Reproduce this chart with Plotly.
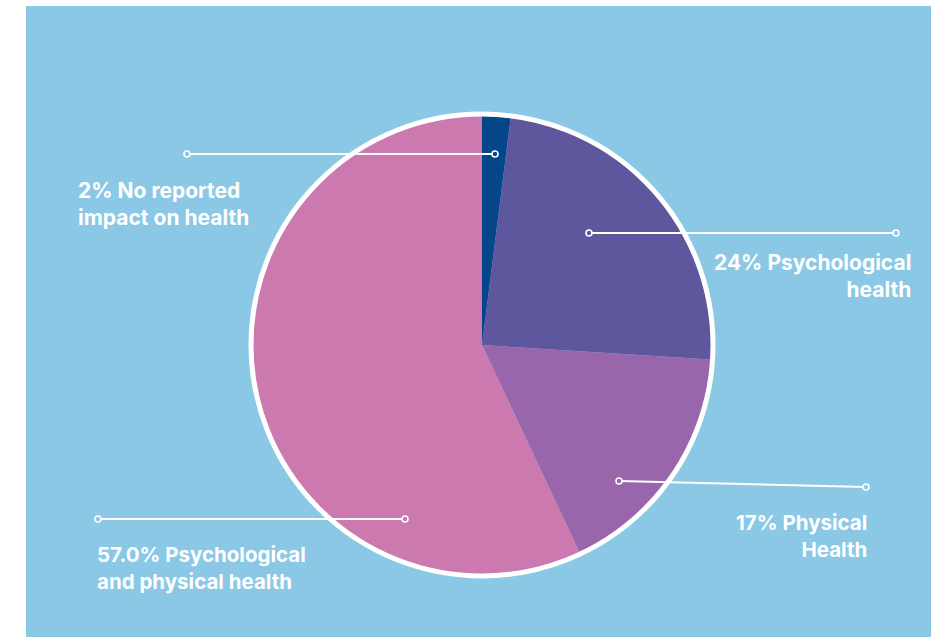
import plotly.graph_objects as go

# ---- data ----
categories = ["No reported impact on health", "Psychological health", "Physical Health",
              "Psychological and physical health"]
values = [2, 24, 17, 57]
label_text = ["2% No reported<br>impact on health",
              "24% Psychological<br>health",
              "17% Physical<br>Health",
              "57.0% Psychological<br>and physical health"]
colors = ["#03468A", "#5F579E", "#9A66AB", "#CC79B0"]

# ---- layout (pixel geometry of the page) ----
W, H = 931, 637
CX, CY, R = 482, 345, 229            # pie centre / radius in page px
BG = "#8AC8E5"

# leader lines: (x0, y0, x1, y1) in page px
leaders = [(187, 154, 495, 154),
           (589, 233, 896, 233),
           (619, 481, 866, 487),
           (98, 519, 405, 519)]
GEO = "Inter"
label_pos = [(76, 204, "left", GEO, 21),
             (913, 276, "right", GEO, 21),
             (869, 536, "right", GEO, 20.5),
             (95, 568, "left", GEO, 20.5)]

fig = go.Figure()
fig.add_trace(go.Pie(
    labels=categories, values=values, sort=False, direction="clockwise",
    rotation=0, marker=dict(colors=colors, line=dict(width=0)),
    textinfo="none", hoverinfo="label+percent", showlegend=False,
    domain=dict(x=[(CX - R) / W, (CX + R) / W],
                y=[1 - (CY + R) / H, 1 - (CY - R) / H]),
))

shapes = [dict(type="rect", xref="x", yref="y", x0=26, y0=6, x1=W, y1=H,
               fillcolor=BG, line=dict(width=0), layer="below"),
          dict(type="circle", xref="x", yref="y", x0=CX - R - 2, y0=CY - R - 2,
               x1=CX + R + 2, y1=CY + R + 2, line=dict(color="white", width=5),
               layer="above")]
for (x0, y0, x1, y1), c in zip(leaders, colors):
    shapes.append(dict(type="line", xref="x", yref="y", x0=x0, y0=y0, x1=x1, y1=y1,
                       line=dict(color="white", width=2), layer="above"))
    for (px, py) in ((x0, y0), (x1, y1)):
        inside = (px - CX) ** 2 + (py - CY) ** 2 < R ** 2
        shapes.append(dict(type="circle", xref="x", yref="y", x0=px - 3, y0=py - 3,
                           x1=px + 3, y1=py + 3, fillcolor=c if inside else BG,
                           line=dict(color="white", width=1.6), layer="above"))

annotations = []
for txt, (x, y, xa, fam, sz) in zip(label_text, label_pos):
    annotations.append(dict(x=x, y=y, xref="x", yref="y", text=txt, showarrow=False,
                            xanchor=xa, yanchor="middle", align=xa,
                            font=dict(family=fam, size=sz, color="white", weight="bold")))

fig.update_layout(
    width=W, height=H, margin=dict(l=0, r=0, t=0, b=0),
    paper_bgcolor="white", plot_bgcolor="rgba(0,0,0,0)",
    xaxis=dict(range=[0, W], visible=False, fixedrange=True, domain=[0, 1]),
    yaxis=dict(range=[H, 0], visible=False, fixedrange=True, domain=[0, 1]),
    shapes=shapes, annotations=annotations,
)
fig.write_html("out.html", config={"displayModeBar": False},
               post_script="document.body.style.margin='0';document.body.style.overflow='hidden';")
